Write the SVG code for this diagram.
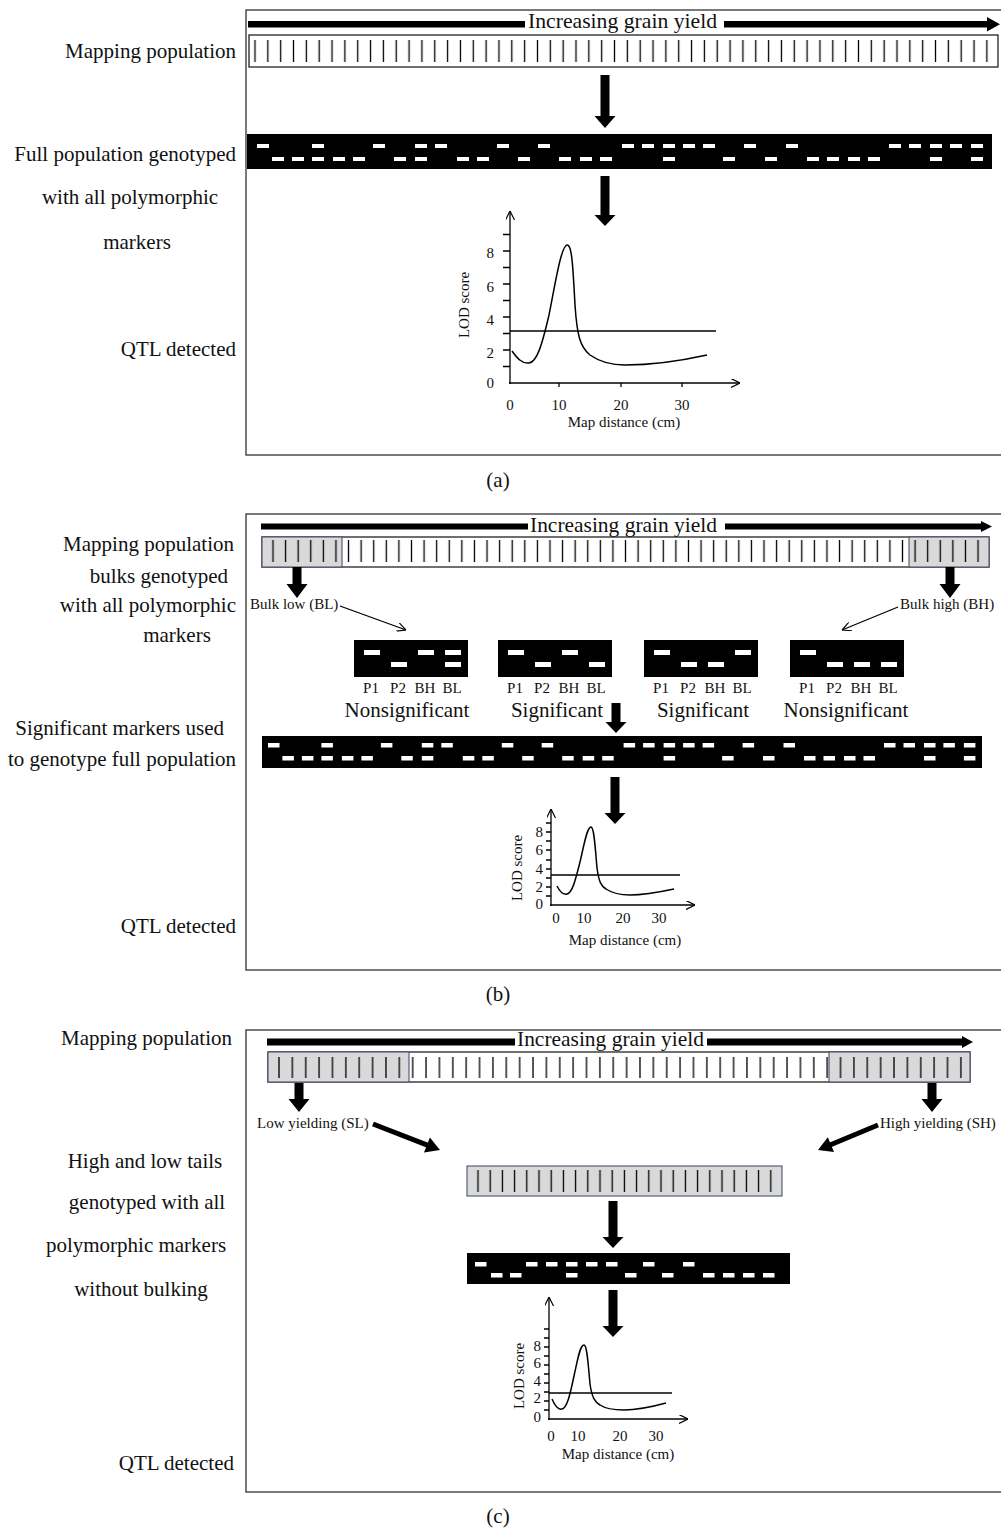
<svg xmlns="http://www.w3.org/2000/svg" width="1001" height="1536" viewBox="0 0 1001 1536">
<style>
text{font-family:"Liberation Serif","Times New Roman",serif;fill:#111}
.lb{font-size:21px}
.tt{font-size:21px}
.sm{font-size:15px}
.ax{font-size:15px}
.pn{fill:none;stroke:#333;stroke-width:1.3}
.bar{fill:#fff;stroke:#222;stroke-width:1.3}
.gr{fill:#d9d9d9;stroke:#44546a;stroke-width:1.1}
.blk{fill:#000}
.d{fill:#fff}
.ln{fill:none;stroke:#000;stroke-width:1.3}
.cv{fill:none;stroke:#000;stroke-width:1.5}
</style>
<defs>
<pattern id="tkA" patternUnits="userSpaceOnUse" x="248.58" y="0" width="12.84" height="1536"><line x1="6.42" y1="0" x2="6.42" y2="1536" stroke="#000" stroke-width="1.3"/></pattern>
<pattern id="tkB" patternUnits="userSpaceOnUse" x="266.705" y="0" width="12.59" height="1536"><line x1="6.295" y1="0" x2="6.295" y2="1536" stroke="#000" stroke-width="1.3"/></pattern>
<pattern id="tkC" patternUnits="userSpaceOnUse" x="272.315" y="0" width="13.37" height="1536"><line x1="6.685" y1="0" x2="6.685" y2="1536" stroke="#000" stroke-width="1.3"/></pattern>
<pattern id="tkM" patternUnits="userSpaceOnUse" x="471.9" y="0" width="12.2" height="1536"><line x1="6.1" y1="0" x2="6.1" y2="1536" stroke="#000" stroke-width="1.3"/></pattern>
<marker id="op" viewBox="0 0 10 10" refX="10" refY="5" markerWidth="9" markerHeight="9" markerUnits="userSpaceOnUse" orient="auto"><path d="M0,0 L10,5 L0,10" fill="none" stroke="#000" stroke-width="1.3"/></marker>
</defs>

<!-- Panel borders -->
<g id="panels">
<rect class="pn" x="246" y="10" width="800" height="445"/>
<rect class="pn" x="246" y="514" width="800" height="456"/>
<rect class="pn" x="246" y="1030" width="800" height="462"/>
</g>

<!-- ============ PANEL A ============ -->
<g id="a-labels">
<text class="lb" x="236" y="58" text-anchor="end">Mapping population</text>
<text class="lb" x="236" y="161" text-anchor="end">Full population genotyped</text>
<text class="lb" x="130" y="204" text-anchor="middle">with all polymorphic</text>
<text class="lb" x="137" y="249" text-anchor="middle">markers</text>
<text class="lb" x="236" y="356" text-anchor="end">QTL detected</text>
<text class="lb" x="498" y="487" text-anchor="middle" font-size="17">(a)</text>
</g>
<g id="a-yield">
<rect class="blk" x="248" y="21" width="277" height="6.5"/>
<text class="tt" x="528" y="28" textLength="189" lengthAdjust="spacingAndGlyphs">Increasing grain yield</text>
<rect class="blk" x="724" y="21" width="264" height="6.5"/>
<polygon class="blk" points="987,17 1000,24.2 987,31.5"/>
</g>
<g id="a-population">
<rect class="bar" x="249" y="35" width="749" height="32"/>
<rect x="249" y="40" width="749" height="22" fill="url(#tkA)"/>
</g>
<g id="a-genotype">
<rect class="blk" x="247" y="134" width="745" height="35"/>
<g class="d">
<rect x="257" y="144" width="12" height="4"/><rect x="312" y="144" width="12" height="4"/><rect x="373" y="144" width="12" height="4"/><rect x="415" y="144" width="12" height="4"/><rect x="435" y="144" width="12" height="4"/><rect x="497" y="144" width="12" height="4"/><rect x="538" y="144" width="12" height="4"/><rect x="622" y="144" width="12" height="4"/><rect x="642" y="144" width="12" height="4"/><rect x="663" y="144" width="12" height="4"/><rect x="683" y="144" width="12" height="4"/><rect x="703" y="144" width="12" height="4"/><rect x="744" y="144" width="12" height="4"/><rect x="786" y="144" width="12" height="4"/><rect x="889" y="144" width="12" height="4"/><rect x="909" y="144" width="12" height="4"/><rect x="930" y="144" width="12" height="4"/><rect x="950" y="144" width="12" height="4"/><rect x="971" y="144" width="12" height="4"/>
<rect x="272" y="157" width="12" height="4"/><rect x="292" y="157" width="12" height="4"/><rect x="312" y="157" width="12" height="4"/><rect x="333" y="157" width="12" height="4"/><rect x="353" y="157" width="12" height="4"/><rect x="394" y="157" width="12" height="4"/><rect x="415" y="157" width="12" height="4"/><rect x="457" y="157" width="12" height="4"/><rect x="477" y="157" width="12" height="4"/><rect x="518" y="157" width="12" height="4"/><rect x="559" y="157" width="12" height="4"/><rect x="580" y="157" width="12" height="4"/><rect x="600" y="157" width="12" height="4"/><rect x="663" y="157" width="12" height="4"/><rect x="723" y="157" width="12" height="4"/><rect x="765" y="157" width="12" height="4"/><rect x="807" y="157" width="12" height="4"/><rect x="827" y="157" width="12" height="4"/><rect x="848" y="157" width="12" height="4"/><rect x="868" y="157" width="12" height="4"/><rect x="930" y="157" width="12" height="4"/><rect x="971" y="157" width="12" height="4"/>
</g>
</g>
<g id="a-graph">
<line class="ln" x1="510" y1="384" x2="510" y2="211" marker-end="url(#op)"/>
<line class="ln" x1="509" y1="383" x2="740" y2="383" marker-end="url(#op)"/>
<path class="ln" d="M503,366.5H510M503,350H510M503,333.5H510M503,317H510M503,300.5H510M503,284H510M503,267.5H510M503,251H510M503,234.5H510M559,383V387M621,383V387M682,383V387"/>
<line class="ln" x1="510" y1="331" x2="716" y2="331"/>
<path class="cv" d="M512,351 C517,358 522,364 529,363 C537,362 542,345 549,315 C555,285 561,246 567,245 C572,244 573,268 575,305 C577,335 580,347 590,355 C600,362 610,365 625,365 C650,365 680,361 707,355"/>
<g class="ax" text-anchor="end">
<text x="494" y="258">8</text><text x="494" y="292">6</text><text x="494" y="325">4</text><text x="494" y="358">2</text><text x="494" y="388">0</text>
</g>
<g class="ax" text-anchor="middle">
<text x="510" y="410">0</text><text x="559" y="410">10</text><text x="621" y="410">20</text><text x="682" y="410">30</text>
<text x="624" y="427">Map distance (cm)</text>
<text x="0" y="0" transform="translate(469,305) rotate(-90)">LOD score</text>
</g>
</g>

<!-- ============ PANEL B ============ -->
<g id="b-labels">
<text class="lb" x="234" y="551" text-anchor="end">Mapping population</text>
<text class="lb" x="228" y="583" text-anchor="end">bulks genotyped</text>
<text class="lb" x="236" y="612" text-anchor="end">with all polymorphic</text>
<text class="lb" x="177" y="642" text-anchor="middle">markers</text>
<text class="lb" x="224" y="735" text-anchor="end">Significant markers used</text>
<text class="lb" x="236" y="766" text-anchor="end">to genotype full population</text>
<text class="lb" x="236" y="933" text-anchor="end">QTL detected</text>
<text class="lb" x="498" y="1001" text-anchor="middle" font-size="17">(b)</text>
</g>
<g id="b-yield">
<rect class="blk" x="261" y="523.5" width="267" height="6"/>
<text class="tt" x="530" y="532" textLength="187" lengthAdjust="spacingAndGlyphs">Increasing grain yield</text>
<rect class="blk" x="725" y="523.5" width="258" height="6"/>
<polygon class="blk" points="981,521 992,526.5 981,532"/>
</g>
<g id="b-population">
<rect class="bar" x="262" y="537" width="727" height="30"/>
<rect class="gr" x="262" y="537" width="80" height="30"/>
<rect class="gr" x="909" y="537" width="80" height="30"/>
<rect x="263" y="540" width="725" height="22" fill="url(#tkB)"/>
</g>
<g id="b-bulk-low">
<text class="sm" x="250" y="609">Bulk low (BL)</text>
</g>
<g id="b-bulk-high">
<text class="sm" x="900" y="609">Bulk high (BH)</text>
</g>
<g id="b-marker1">
<rect class="blk" x="354" y="640" width="114" height="37"/>
<g class="d"><rect x="364" y="650" width="16" height="5"/><rect x="418" y="650" width="16" height="5"/><rect x="445" y="650" width="16" height="5"/><rect x="391" y="662" width="16" height="5"/><rect x="445" y="662" width="16" height="5"/></g>
<g class="sm" text-anchor="middle"><text x="371" y="693">P1</text><text x="398" y="693">P2</text><text x="425" y="693">BH</text><text x="452" y="693">BL</text></g>
<text class="lb" x="407" y="717" text-anchor="middle">Nonsignificant</text>
</g>
<g id="b-marker2">
<rect class="blk" x="498" y="640" width="114" height="37"/>
<g class="d"><rect x="508" y="650" width="16" height="5"/><rect x="562" y="650" width="16" height="5"/><rect x="535" y="662" width="16" height="5"/><rect x="589" y="662" width="16" height="5"/></g>
<g class="sm" text-anchor="middle"><text x="515" y="693">P1</text><text x="542" y="693">P2</text><text x="569" y="693">BH</text><text x="596" y="693">BL</text></g>
<text class="lb" x="557" y="717" text-anchor="middle">Significant</text>
</g>
<g id="b-marker3">
<rect class="blk" x="644" y="640" width="114" height="37"/>
<g class="d"><rect x="654" y="650" width="16" height="5"/><rect x="735" y="650" width="16" height="5"/><rect x="681" y="662" width="16" height="5"/><rect x="708" y="662" width="16" height="5"/></g>
<g class="sm" text-anchor="middle"><text x="661" y="693">P1</text><text x="688" y="693">P2</text><text x="715" y="693">BH</text><text x="742" y="693">BL</text></g>
<text class="lb" x="703" y="717" text-anchor="middle">Significant</text>
</g>
<g id="b-marker4">
<rect class="blk" x="790" y="640" width="114" height="37"/>
<g class="d"><rect x="800" y="650" width="16" height="5"/><rect x="827" y="662" width="16" height="5"/><rect x="854" y="662" width="16" height="5"/><rect x="881" y="662" width="16" height="5"/></g>
<g class="sm" text-anchor="middle"><text x="807" y="693">P1</text><text x="834" y="693">P2</text><text x="861" y="693">BH</text><text x="888" y="693">BL</text></g>
<text class="lb" x="846" y="717" text-anchor="middle">Nonsignificant</text>
</g>
<g id="b-genotype">
<rect class="blk" x="262" y="736" width="720" height="32"/>
<g class="d">
<rect x="268" y="743" width="11.5" height="4.5"/><rect x="321.4" y="743" width="11.5" height="4.5"/><rect x="380.9" y="743" width="11.5" height="4.5"/><rect x="421.8" y="743" width="11.5" height="4.5"/><rect x="441.3" y="743" width="11.5" height="4.5"/><rect x="501.8" y="743" width="11.5" height="4.5"/><rect x="541.7" y="743" width="11.5" height="4.5"/><rect x="623.6" y="743" width="11.5" height="4.5"/><rect x="643.1" y="743" width="11.5" height="4.5"/><rect x="663.6" y="743" width="11.5" height="4.5"/><rect x="683.1" y="743" width="11.5" height="4.5"/><rect x="702.6" y="743" width="11.5" height="4.5"/><rect x="742.6" y="743" width="11.5" height="4.5"/><rect x="783.5" y="743" width="11.5" height="4.5"/><rect x="884" y="743" width="11.5" height="4.5"/><rect x="903.5" y="743" width="11.5" height="4.5"/><rect x="924" y="743" width="11.5" height="4.5"/><rect x="943.4" y="743" width="11.5" height="4.5"/><rect x="963.9" y="743" width="11.5" height="4.5"/>
<rect x="282.4" y="756" width="11.5" height="4.5"/><rect x="301.9" y="756" width="11.5" height="4.5"/><rect x="321.4" y="756" width="11.5" height="4.5"/><rect x="341.9" y="756" width="11.5" height="4.5"/><rect x="361.4" y="756" width="11.5" height="4.5"/><rect x="401.3" y="756" width="11.5" height="4.5"/><rect x="421.8" y="756" width="11.5" height="4.5"/><rect x="462.8" y="756" width="11.5" height="4.5"/><rect x="482.3" y="756" width="11.5" height="4.5"/><rect x="522.2" y="756" width="11.5" height="4.5"/><rect x="562.2" y="756" width="11.5" height="4.5"/><rect x="582.7" y="756" width="11.5" height="4.5"/><rect x="602.2" y="756" width="11.5" height="4.5"/><rect x="663.6" y="756" width="11.5" height="4.5"/><rect x="722.1" y="756" width="11.5" height="4.5"/><rect x="763" y="756" width="11.5" height="4.5"/><rect x="804" y="756" width="11.5" height="4.5"/><rect x="823.5" y="756" width="11.5" height="4.5"/><rect x="844" y="756" width="11.5" height="4.5"/><rect x="863.5" y="756" width="11.5" height="4.5"/><rect x="924" y="756" width="11.5" height="4.5"/><rect x="963.9" y="756" width="11.5" height="4.5"/>
</g>
</g>
<g id="b-graph">
<line class="ln" x1="551" y1="906" x2="551" y2="809" marker-end="url(#op)"/>
<line class="ln" x1="550" y1="905" x2="695" y2="905" marker-end="url(#op)"/>
<path class="ln" d="M546,896H551M546,887H551M546,878H551M546,869H551M546,860H551M546,850H551M546,841H551M546,832H551M546,823H551"/>
<line class="ln" x1="551" y1="875" x2="680" y2="875"/>
<path class="cv" d="M557,886 C560,892 563,895 567,894 C572,893 575,882 580,862 C584,845 587,827 591,827 C594,827 595,845 597,868 C599,882 601,886 606,889 C612,893 620,895 630,895 C645,895 660,892 674,889"/>
<g class="ax" text-anchor="end">
<text x="543" y="837">8</text><text x="543" y="855">6</text><text x="543" y="874">4</text><text x="543" y="892">2</text><text x="543" y="909">0</text>
</g>
<g class="ax" text-anchor="middle">
<text x="556" y="923">0</text><text x="584" y="923">10</text><text x="623" y="923">20</text><text x="659" y="923">30</text>
<text x="625" y="945">Map distance (cm)</text>
<text x="0" y="0" transform="translate(522,868) rotate(-90)">LOD score</text>
</g>
</g>

<!-- ============ PANEL C ============ -->
<g id="c-labels">
<text class="lb" x="232" y="1045" text-anchor="end">Mapping population</text>
<text class="lb" x="145" y="1168" text-anchor="middle">High and low tails</text>
<text class="lb" x="147" y="1209" text-anchor="middle">genotyped with all</text>
<text class="lb" x="136" y="1252" text-anchor="middle">polymorphic markers</text>
<text class="lb" x="141" y="1296" text-anchor="middle">without bulking</text>
<text class="lb" x="234" y="1470" text-anchor="end">QTL detected</text>
<text class="lb" x="498" y="1523" text-anchor="middle" font-size="17">(c)</text>
</g>
<g id="c-yield">
<rect class="blk" x="267" y="1038.5" width="248" height="7"/>
<text class="tt" x="517" y="1046" textLength="187" lengthAdjust="spacingAndGlyphs">Increasing grain yield</text>
<rect class="blk" x="707" y="1038.5" width="256" height="7"/>
<polygon class="blk" points="962,1036 973,1042 962,1048"/>
</g>
<g id="c-population">
<rect class="bar" x="268" y="1052" width="702" height="30"/>
<rect class="gr" x="268" y="1052" width="141" height="30"/>
<rect class="gr" x="829" y="1052" width="141" height="30"/>
<rect x="269" y="1057" width="700" height="21" fill="url(#tkC)"/>
</g>
<g id="c-low">
<text class="sm" x="257" y="1128">Low yielding (SL)</text>
</g>
<g id="c-high">
<text class="sm" x="880" y="1128">High yielding (SH)</text>
</g>
<g id="c-selected">
<rect class="gr" x="467" y="1166" width="315" height="30" stroke="#333"/>
<rect x="468" y="1170" width="313" height="22" fill="url(#tkM)"/>
</g>
<g id="c-genotype">
<rect class="blk" x="467" y="1253" width="323" height="31"/>
<g class="d">
<rect x="475" y="1262" width="11.5" height="4.5"/><rect x="526" y="1262" width="11.5" height="4.5"/><rect x="546" y="1262" width="11.5" height="4.5"/><rect x="566" y="1262" width="11.5" height="4.5"/><rect x="586" y="1262" width="11.5" height="4.5"/><rect x="606" y="1262" width="11.5" height="4.5"/><rect x="643" y="1262" width="11.5" height="4.5"/><rect x="683" y="1262" width="11.5" height="4.5"/>
<rect x="491" y="1273" width="11.5" height="4.5"/><rect x="510" y="1273" width="11.5" height="4.5"/><rect x="566" y="1273" width="11.5" height="4.5"/><rect x="625" y="1273" width="11.5" height="4.5"/><rect x="662" y="1273" width="11.5" height="4.5"/><rect x="703" y="1273" width="11.5" height="4.5"/><rect x="723" y="1273" width="11.5" height="4.5"/><rect x="743" y="1273" width="11.5" height="4.5"/><rect x="763" y="1273" width="11.5" height="4.5"/>
</g>
</g>
<g id="c-graph">
<line class="ln" x1="549" y1="1420" x2="549" y2="1297" marker-end="url(#op)"/>
<line class="ln" x1="548" y1="1419" x2="688" y2="1419" marker-end="url(#op)"/>
<path class="ln" d="M544,1410H549M544,1401H549M544,1392H549M544,1383H549M544,1374H549M544,1365H549M544,1356H549M544,1347H549M544,1338H549M544,1329H549"/>
<line class="ln" x1="549" y1="1393" x2="672" y2="1393"/>
<path class="cv" d="M552,1399 C555,1406 558,1410 562,1409 C567,1408 570,1395 574,1376 C578,1358 580,1345 584,1345 C587,1345 588,1362 590,1384 C592,1398 595,1402 600,1405 C606,1409 614,1410 624,1410 C640,1410 655,1406 666,1403"/>
<g class="ax" text-anchor="end">
<text x="541" y="1351">8</text><text x="541" y="1368">6</text><text x="541" y="1386">4</text><text x="541" y="1403">2</text><text x="541" y="1422">0</text>
</g>
<g class="ax" text-anchor="middle">
<text x="551" y="1441">0</text><text x="578" y="1441">10</text><text x="620" y="1441">20</text><text x="656" y="1441">30</text>
<text x="618" y="1459">Map distance (cm)</text>
<text x="0" y="0" transform="translate(524,1376) rotate(-90)">LOD score</text>
</g>
</g>

<!-- ============ CONNECTORS ============ -->
<g id="connectors">
<polygon class="blk" points="600.5,75 609.5,75 609.5,116 615.5,116 605,128 594.5,116 600.5,116"/>
<polygon class="blk" points="600.5,176 609.5,176 609.5,215 615.5,215 605,226 594.5,215 600.5,215"/>
<polygon class="blk" points="292.5,567 301.5,567 301.5,584 307.5,584 297,598 286.5,584 292.5,584"/>
<polygon class="blk" points="945.5,567 954.5,567 954.5,584 960.5,584 950,598 939.5,584 945.5,584"/>
<line class="ln" x1="340" y1="606" x2="406" y2="630" marker-end="url(#op)"/>
<line class="ln" x1="898" y1="607" x2="842" y2="630" marker-end="url(#op)"/>
<polygon class="blk" points="611.5,703 620.5,703 620.5,722 626.5,722 616,733 605.5,722 611.5,722"/>
<polygon class="blk" points="610.5,777 619.5,777 619.5,813 625.5,813 615,824 604.5,813 610.5,813"/>
<polygon class="blk" points="294.5,1083 303.5,1083 303.5,1099 309.5,1099 299,1112 288.5,1099 294.5,1099"/>
<polygon class="blk" points="927.5,1083 936.5,1083 936.5,1099 942.5,1099 932,1112 921.5,1099 927.5,1099"/>
<line x1="373" y1="1124" x2="428" y2="1145.4" stroke="#000" stroke-width="5"/>
<polygon class="blk" points="440,1150 424,1152.4 429.9,1137.5"/>
<line x1="878" y1="1125" x2="830" y2="1145" stroke="#000" stroke-width="5"/>
<polygon class="blk" points="818,1150 827.8,1137.2 834,1152"/>
<polygon class="blk" points="608.5,1201 617.5,1201 617.5,1237 623.5,1237 613,1248 602.5,1237 608.5,1237"/>
<polygon class="blk" points="608.5,1290 617.5,1290 617.5,1326 623.5,1326 613,1337 602.5,1326 608.5,1326"/>
</g>
</svg>
